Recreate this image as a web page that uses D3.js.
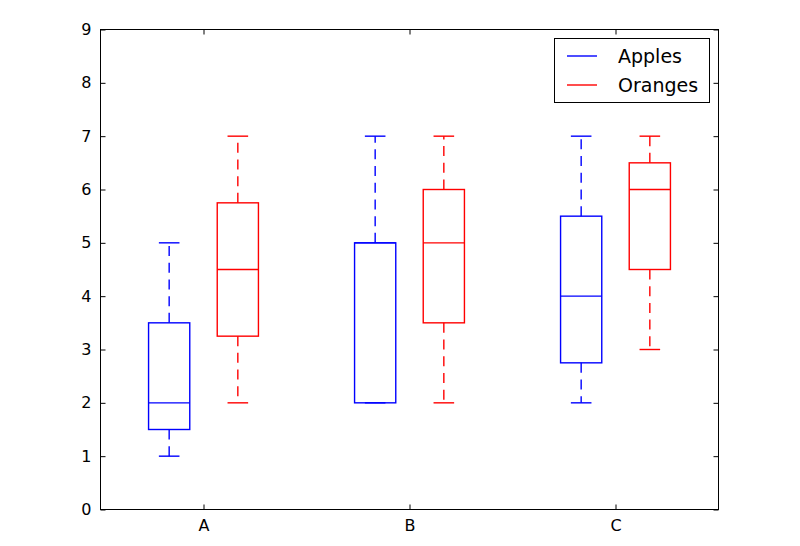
<!DOCTYPE html>
<html><head><meta charset="utf-8">
<script src="https://d3js.org/d3.v7.min.js"></script>
<style>body{margin:0;background:#fff}svg{display:block}text{font-family:"DejaVu Sans",sans-serif}</style>
</head><body><svg id="c" width="800" height="546"></svg>
<script>
const categories = ["A", "B", "C"];
const seriesNames = ["Apples", "Oranges"];
const seriesColors = ["#0000ff", "#ff0000"];
// [whiskerLow, q1, median, q3, whiskerHigh] per category
const apples  = [[1, 1.5, 2, 3.5, 5], [2, 2, 5, 5, 7], [2, 2.75, 4, 5.5, 7]];
const oranges = [[2, 3.25, 4.5, 5.75, 7], [2, 3.5, 5, 6, 7], [3, 4.5, 6, 6.5, 7]];
const positions = [[1, 2], [4, 5], [7, 8]];
const yTicks = [0, 1, 2, 3, 4, 5, 6, 7, 8, 9];

const svg = d3.select("#c");
const L = 100.5, R = 718.5, T = 29.5, B = 509.5;
const x = d3.scaleLinear().domain([0, 9]).range([L, R]);
const y = d3.scaleLinear().domain([0, 9]).range([B, T]);
const boxW = 0.6, capW = 0.3;
const series = [apples, oranges];

const g = svg.append("g");
series.forEach((data, si) => {
  const col = seriesColors[si];
  data.forEach((d, ci) => {
    const p = positions[ci][si];
    const [lo, q1, med, q3, hi] = d;
    const gg = g.append("g").attr("stroke", col).attr("fill", "none").attr("stroke-width", 1.4);
    // whiskers
    gg.append("line").attr("x1", x(p)).attr("x2", x(p)).attr("y1", y(q1)).attr("y2", y(lo)).attr("stroke-dasharray", "10,6.7");
    gg.append("line").attr("x1", x(p)).attr("x2", x(p)).attr("y1", y(q3)).attr("y2", y(hi)).attr("stroke-dasharray", "10,6.7");
    // caps
    [lo, hi].forEach(v => gg.append("line").attr("x1", x(p - capW / 2)).attr("x2", x(p + capW / 2)).attr("y1", y(v)).attr("y2", y(v)));
    // box
    gg.append("rect").attr("x", x(p - boxW / 2)).attr("width", x(p + boxW / 2) - x(p - boxW / 2))
      .attr("y", y(q3)).attr("height", y(q1) - y(q3));
    // median
    gg.append("line").attr("x1", x(p - boxW / 2)).attr("x2", x(p + boxW / 2)).attr("y1", y(med)).attr("y2", y(med));
  });
});

// frame
svg.append("rect").attr("x", L).attr("y", T).attr("width", R - L).attr("height", B - T)
  .attr("fill", "none").attr("stroke", "#000").attr("stroke-width", 1);

// axes with inward ticks
const xt = positions.map(p => (p[0] + p[1]) / 2);
const ax = svg.append("g").attr("transform", `translate(0,${B})`)
  .call(d3.axisBottom(x).tickValues(xt).tickFormat((d, i) => categories[i]).tickSizeInner(-5).tickSizeOuter(0).tickPadding(10));
const axTop = svg.append("g").attr("transform", `translate(0,${T})`)
  .call(d3.axisTop(x).tickValues(xt).tickFormat("").tickSizeInner(-5).tickSizeOuter(0));
const ay = svg.append("g").attr("transform", `translate(${L},0)`)
  .call(d3.axisLeft(y).tickValues(yTicks).tickFormat(d3.format("d")).tickSizeInner(-5).tickSizeOuter(0).tickPadding(9));
const ayR = svg.append("g").attr("transform", `translate(${R},0)`)
  .call(d3.axisRight(y).tickValues(yTicks).tickFormat("").tickSizeInner(-5).tickSizeOuter(0));
[ax, axTop, ay, ayR].forEach(a => {
  a.select(".domain").remove();
  a.selectAll(".tick line").attr("stroke", "#000").attr("stroke-width", 1);
  a.selectAll("text").attr("fill", "#000").style("font-family", "DejaVu Sans").style("font-size", "16px");
});
ax.selectAll("text").attr("dy", "0.71em");

// legend
const lg = svg.append("g");
lg.append("rect").attr("x", 554.5).attr("y", 38.5).attr("width", 155).attr("height", 64)
  .attr("fill", "#fff").attr("stroke", "#000").attr("stroke-width", 1);
seriesNames.forEach((n, i) => {
  const yy = 56 + i * 29;
  lg.append("line").attr("x1", 567).attr("x2", 597).attr("y1", yy).attr("y2", yy)
    .attr("stroke", seriesColors[i]).attr("stroke-width", 1.4);
  lg.append("text").attr("x", 618).attr("y", yy).attr("dy", "0.36em").text(n)
    .style("font-size", "19px").attr("fill", "#000");
});
</script></body></html>
